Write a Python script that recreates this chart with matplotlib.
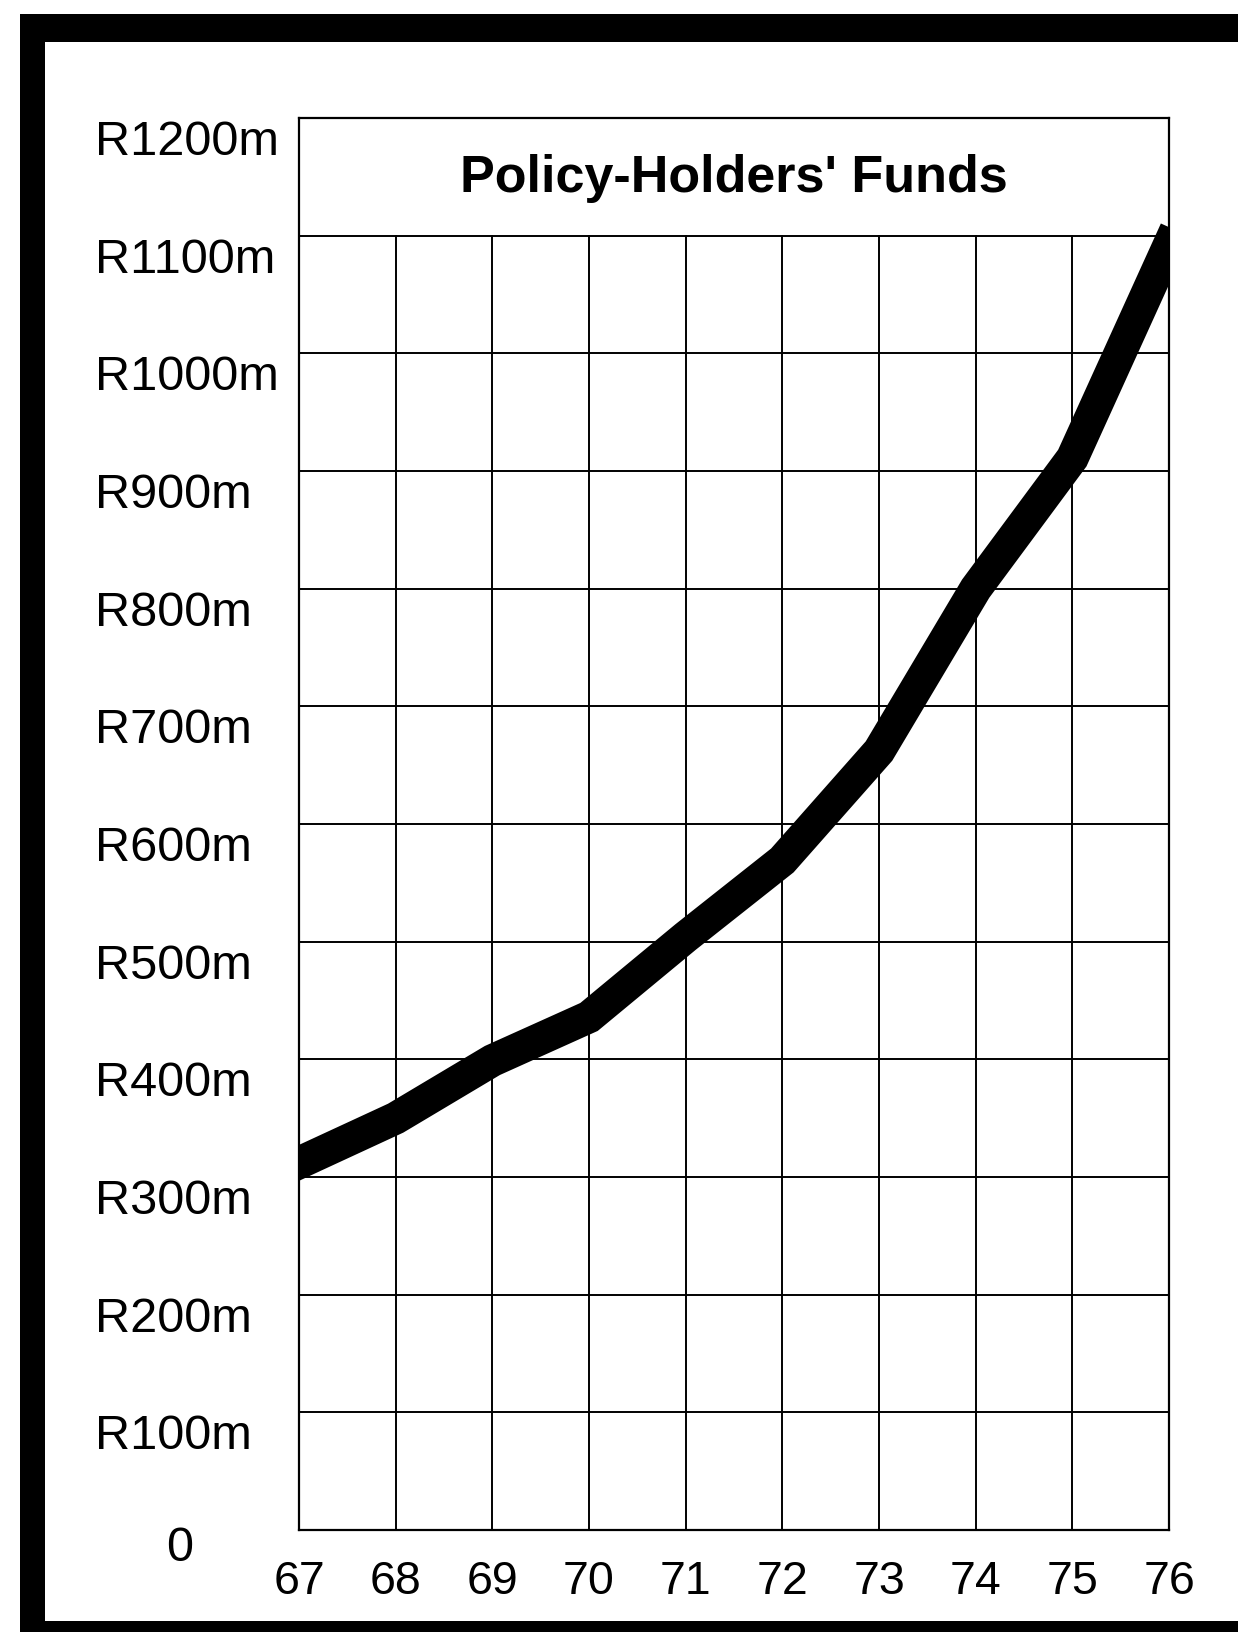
import matplotlib
matplotlib.use("Agg")
import matplotlib.pyplot as plt
import matplotlib.transforms as mtransforms
from matplotlib.patches import Rectangle

# ---- data ----
years = [67, 68, 69, 70, 71, 72, 73, 74, 75, 76]
year_labels = ["67", "68", "69", "70", "71", "72", "73", "74", "75", "76"]
funds = [312, 350, 399, 436, 504, 569, 662, 800, 911, 1092]  # R millions
y_ticks = [0, 100, 200, 300, 400, 500, 600, 700, 800, 900, 1000, 1100, 1200]
y_labels = ["0", "R100m", "R200m", "R300m", "R400m", "R500m", "R600m",
            "R700m", "R800m", "R900m", "R1000m", "R1100m", "R1200m"]
title = "Policy-Holders' Funds"

W, H, DPI = 1238, 1633, 100
fig = plt.figure(figsize=(W / DPI, H / DPI), dpi=DPI, facecolor="white")

FONT = ["Liberation Sans", "DejaVu Sans"]

# outer black frame (cropped on the right)
def px_rect(x0, y0, x1, y1):
    fig.patches.append(Rectangle((x0 / W, 1 - y1 / H), (x1 - x0) / W, (y1 - y0) / H,
                                 transform=fig.transFigure, facecolor="black",
                                 edgecolor="none", zorder=0))
px_rect(20, 15, W, 43)      # top band
px_rect(20, 15, 45, H)      # left band
px_rect(20, 1622, W, H)     # bottom band

left, right, top, bottom = 299, 1169, 119, 1531
ax = fig.add_axes([left / W, 1 - bottom / H, (right - left) / W, (bottom - top) / H])
ax.set_xlim(years[0], years[-1])
ax.set_ylim(0, 1200)
ax.set_xticks([])
ax.set_yticks([])
for s in ax.spines.values():
    s.set_linewidth(1.6)
    s.set_color("black")

# grid
for v in y_ticks[1:-1]:
    ax.axhline(v, color="black", lw=1.4, zorder=1)
for x in years[1:-1]:
    ax.axvline(x, ymin=0, ymax=1100 / 1200, color="black", lw=1.4, zorder=1)

# the thick line
ax.plot(years, funds, color="black", lw=23.5, solid_joinstyle="miter",
        solid_capstyle="projecting", zorder=3, clip_on=True)

# title inside the box
ax.text(0.5, (bottom - 192) / (bottom - top), title, transform=ax.transAxes,
        ha="center", va="baseline", fontsize=37.5, fontweight="bold",
        family=FONT, zorder=4)

# y labels (left-aligned, sitting below their gridlines)
ytrans = mtransforms.blended_transform_factory(fig.transFigure, ax.transData) + \
    mtransforms.ScaledTranslation(0, -36 / DPI, fig.dpi_scale_trans)
ztrans = mtransforms.blended_transform_factory(fig.transFigure, ax.transData) + \
    mtransforms.ScaledTranslation(0, -30 / DPI, fig.dpi_scale_trans)
for v, lab in zip(y_ticks, y_labels):
    if v == 0:
        fig.text(180 / W, v, lab, transform=ztrans, ha="center", va="baseline",
                 fontsize=35, family=FONT)
    else:
        fig.text(95 / W, v, lab, transform=ytrans, ha="left", va="baseline",
                 fontsize=35, family=FONT)

# x labels
xtrans = mtransforms.blended_transform_factory(ax.transData, fig.transFigure)
for x, lab in zip(years, year_labels):
    fig.text(x, (H - 1594) / H, lab, transform=xtrans, ha="center", va="baseline",
             fontsize=33.5, family=FONT)

fig.savefig("out.png", dpi=DPI, facecolor="white")
